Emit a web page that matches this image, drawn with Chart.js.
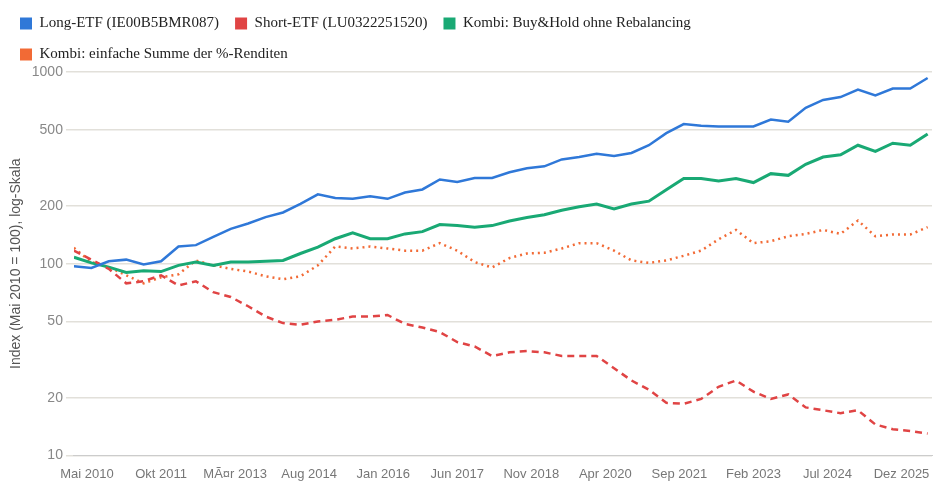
<!DOCTYPE html>
<html>
<head>
<meta charset="utf-8">
<script src="https://cdn.jsdelivr.net/npm/chart.js@4"></script>
<style>
  html, body { margin: 0; padding: 0; background: #fff; }
  #wrap { width: 940px; height: 491px; }
</style>
</head>
<body>
<div id="wrap"><canvas id="c"></canvas></div>
<script>
// month index (0 = Mai 2010), sampled every 4 months
const months = [0,4,8,12,16,20,24,28,32,36,40,44,48,52,56,60,64,68,72,76,80,84,88,92,96,100,104,108,112,116,120,124,128,132,136,140,144,148,152,156,160,164,168,172,176,180,184,188,192,196];

const longEtf = [97,95,103,105,99,103,123,125,138,152,162,175,185,205,230,220,218,225,218,235,244,275,267,280,280,300,315,322,350,360,375,365,378,415,480,535,525,520,520,520,565,550,650,715,740,810,755,820,820,930];
const shortEtf = [117,105,94,79,81,87,77,81,71,67,60,53,49,48,50,51,53,53,54,48.5,46.5,44,39,37,33,34.5,35,34.5,33,33,33,28.5,24.6,22,18.8,18.6,19.7,22.8,24.6,21.5,19.7,20.8,17.8,17.2,16.6,17.2,14.5,13.7,13.4,13];
const kombiBH = [108,101,96,90,92,91,98,102,98,102,102,103,104,113,122,135,145,135,135,143,147,160,158,155,158,167,174,180,190,198,205,193,205,212,243,278,278,270,278,265,295,289,330,360,370,415,385,425,415,475];
const kombiSum = [121,102,96,87,79,85,88,104,98,94,91,86,83,86,98,123,120,123,120,117,117,128,117,102,95.5,107,113,114,120,128,128,117,104,101,104,110,117,134,150,128,131,139,143,150,143,168,139,142,142,155];

const tickMonths = [3,20,37,54,71,88,105,122,139,156,173,190];
const tickLabels = ['Mai 2010','Okt 2011','MÃ¤r 2013','Aug 2014','Jan 2016','Jun 2017','Nov 2018','Apr 2020','Sep 2021','Feb 2023','Jul 2024','Dez 2025'];
const yTicks = [10, 20, 50, 100, 200, 500, 1000];

function pts(arr) { return months.map((m, i) => ({ x: m, y: arr[i] })); }

new Chart(document.getElementById('c'), {
  type: 'line',
  data: {
    datasets: [
      { label: 'Long-ETF (IE00B5BMR087)', data: pts(longEtf), borderColor: '#2f78d8', backgroundColor: '#2f78d8', borderWidth: 2.5 },
      { label: 'Short-ETF (LU0322251520)', data: pts(shortEtf), borderColor: '#e04444', backgroundColor: '#e04444', borderWidth: 2.5, borderDash: [7, 5] },
      { label: 'Kombi: Buy&Hold ohne Rebalancing', data: pts(kombiBH), borderColor: '#19a974', backgroundColor: '#19a974', borderWidth: 3 },
      { label: 'Kombi: einfache Summe der %-Renditen', data: pts(kombiSum), borderColor: '#f26a35', backgroundColor: '#f26a35', borderWidth: 2.5, borderDash: [2, 4] }
    ]
  },
  options: {
    responsive: true,
    maintainAspectRatio: false,
    animation: false,
    elements: { point: { radius: 0 }, line: { tension: 0 } },
    layout: { padding: { left: 4, right: 8, top: 0, bottom: 6 } },
    plugins: {
      legend: {
        position: 'top',
        align: 'start',
        labels: {
          boxWidth: 12, boxHeight: 12, padding: 16, color: '#222',
          font: { family: 'Liberation Serif', size: 15 },
          generateLabels: chart => Chart.defaults.plugins.legend.labels.generateLabels(chart)
            .map(l => Object.assign(l, { lineDash: [], lineWidth: 0, strokeStyle: l.fillStyle }))
        }
      },
      tooltip: { enabled: false }
    },
    scales: {
      x: {
        type: 'linear',
        min: 0,
        max: 197,
        afterBuildTicks: s => { s.ticks = tickMonths.map(v => ({ value: v })); },
        ticks: {
          autoSkip: false, maxRotation: 0, color: '#777',
          font: { family: 'Liberation Sans', size: 13 },
          callback: v => tickLabels[tickMonths.indexOf(v)]
        },
        grid: { display: false },
        border: { color: '#ccc' }
      },
      y: {
        type: 'logarithmic',
        min: 10,
        max: 1000,
        afterBuildTicks: s => { s.ticks = yTicks.map(v => ({ value: v })); },
        ticks: { color: '#888', font: { family: 'Liberation Sans', size: 14 }, callback: v => String(v) },
        grid: { color: '#e2e0da', lineWidth: 1.5 },
        border: { display: false },
        title: { display: true, text: 'Index (Mai 2010 = 100), log-Skala', color: '#555', font: { family: 'Liberation Sans', size: 14 } }
      }
    }
  }
});
</script>
</body>
</html>
